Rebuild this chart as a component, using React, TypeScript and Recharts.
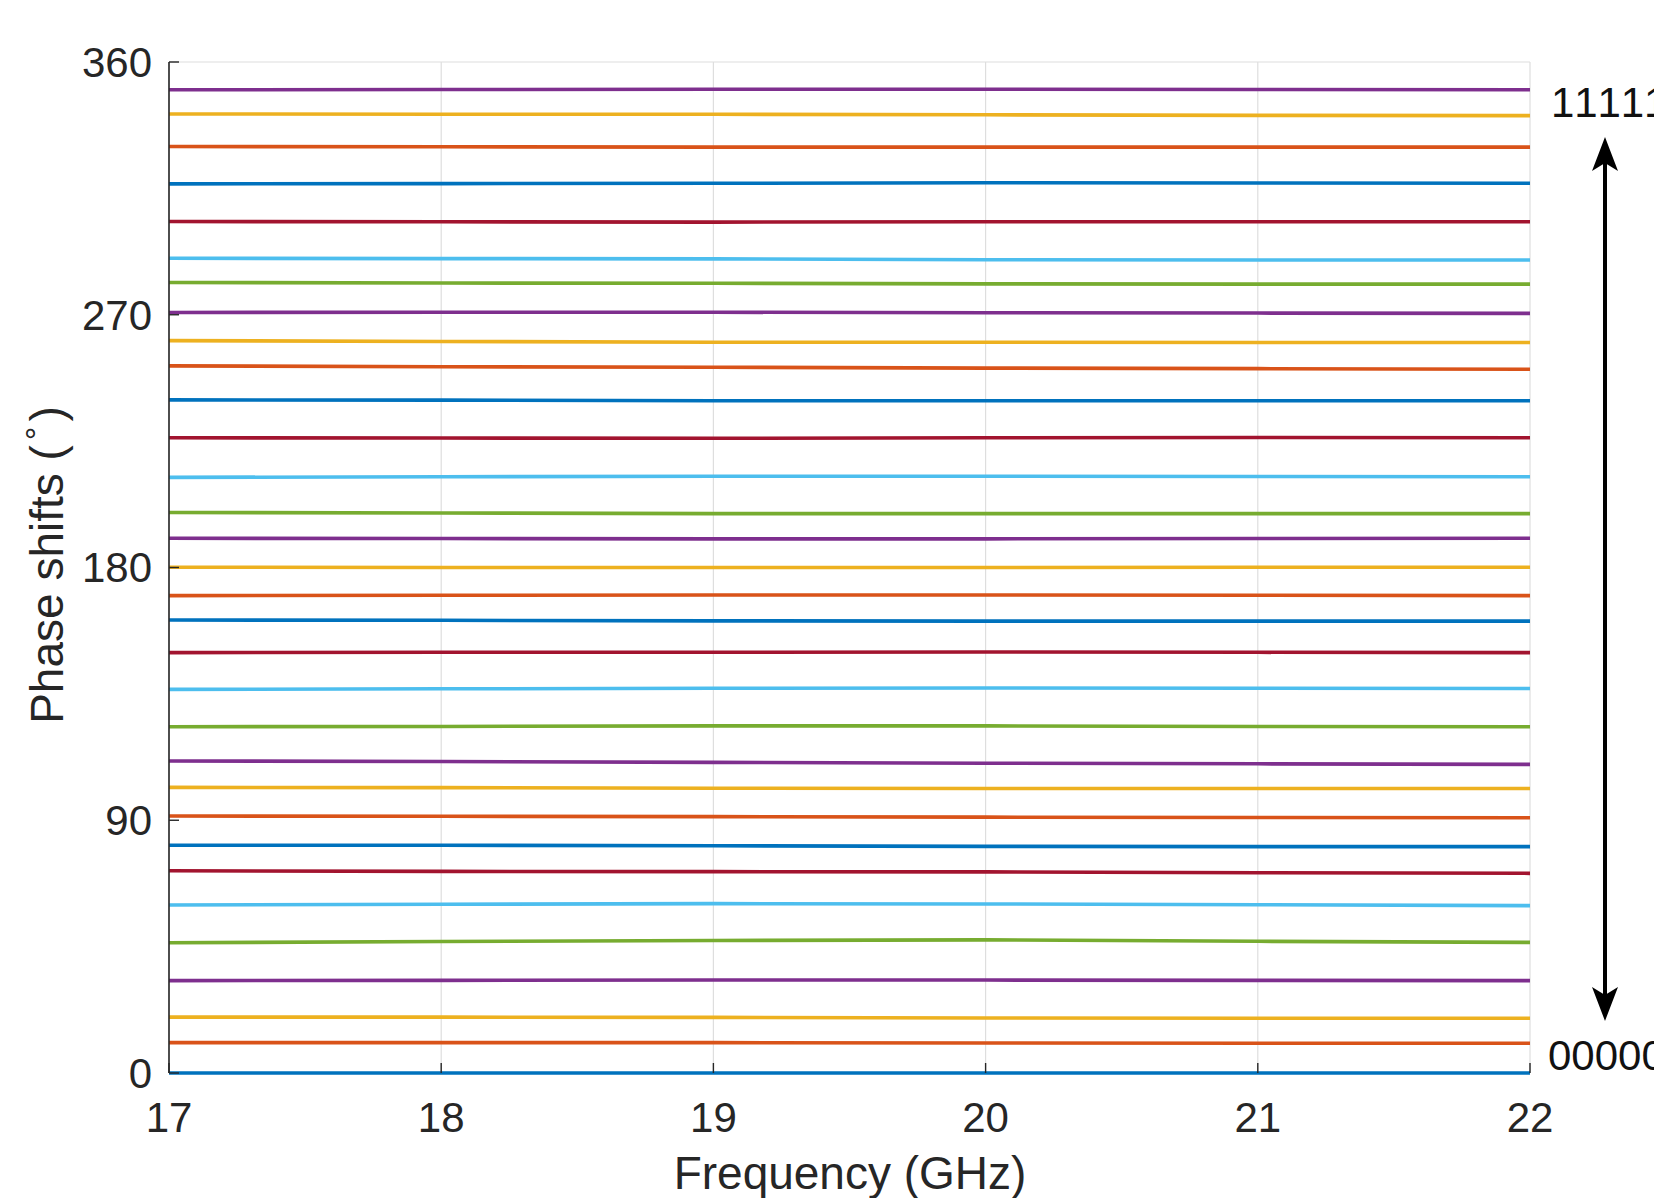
import React from 'react';
import { LineChart, Line, XAxis, YAxis, CartesianGrid, ReferenceLine } from 'recharts';

// Frequency points (GHz)
const frequencies = [17, 18, 19, 20, 21, 22];

// Measured phase shift (deg) for each of the 32 states (00000 ... 11111), at each frequency
const state00 = [0, 0, 0, 0, 0, 0];
const state01 = [10.8, 10.8, 10.8, 10.7, 10.6, 10.6];
const state02 = [19.9, 19.9, 19.8, 19.6, 19.5, 19.5];
const state03 = [32.9, 33.0, 33.1, 33.1, 33.0, 32.9];
const state04 = [46.4, 46.8, 47.2, 47.4, 46.9, 46.5];
const state05 = [59.8, 60.1, 60.3, 60.2, 59.9, 59.6];
const state06 = [72.0, 71.8, 71.7, 71.6, 71.3, 71.1];
const state07 = [81.1, 81.1, 80.9, 80.7, 80.6, 80.6];
const state08 = [91.5, 91.4, 91.3, 91.1, 91.0, 90.9];
const state09 = [101.7, 101.6, 101.4, 101.3, 101.3, 101.3];
const state10 = [111.1, 110.9, 110.6, 110.3, 110.1, 109.9];
const state11 = [123.3, 123.4, 123.6, 123.6, 123.4, 123.3];
const state12 = [136.6, 136.8, 137.0, 137.1, 137.0, 136.9];
const state13 = [149.7, 149.8, 149.8, 149.9, 149.8, 149.7];
const state14 = [161.3, 161.2, 161.0, 160.9, 160.9, 160.9];
const state15 = [170.0, 170.1, 170.2, 170.2, 170.1, 170.0];
const state16 = [180.1, 180.0, 180.0, 180.0, 180.1, 180.1];
const state17 = [190.4, 190.3, 190.2, 190.2, 190.3, 190.4];
const state18 = [199.6, 199.4, 199.2, 199.2, 199.2, 199.2];
const state19 = [212.1, 212.3, 212.5, 212.5, 212.4, 212.3];
const state20 = [226.2, 226.1, 226.0, 226.2, 226.3, 226.2];
const state21 = [239.7, 239.6, 239.4, 239.4, 239.4, 239.4];
const state22 = [251.8, 251.5, 251.3, 251.0, 250.8, 250.6];
const state23 = [260.8, 260.5, 260.2, 260.2, 260.1, 260.1];
const state24 = [270.8, 270.9, 270.9, 270.7, 270.6, 270.5];
const state25 = [281.5, 281.3, 281.2, 281.0, 280.9, 280.9];
const state26 = [290.1, 290.0, 289.9, 289.6, 289.5, 289.5];
const state27 = [303.2, 303.1, 303.0, 303.1, 303.1, 303.1];
const state28 = [316.6, 316.7, 316.8, 317.0, 316.9, 316.8];
const state29 = [329.9, 329.8, 329.7, 329.7, 329.7, 329.7];
const state30 = [341.5, 341.4, 341.4, 341.2, 341.0, 340.9];
const state31 = [350.1, 350.2, 350.3, 350.3, 350.2, 350.1];

const states = [
  state00, state01, state02, state03, state04, state05, state06, state07,
  state08, state09, state10, state11, state12, state13, state14, state15,
  state16, state17, state18, state19, state20, state21, state22, state23,
  state24, state25, state26, state27, state28, state29, state30, state31,
];

const palette = ['#0072BD', '#D95319', '#EDB120', '#7E2F8E', '#77AC30', '#4DBEEE', '#A2142F'];

const xTicks = [17, 18, 19, 20, 21, 22];
const yTicks = [0, 90, 180, 270, 360];

const data = frequencies.map((f, i) => {
  const row: Record<string, number> = { f };
  states.forEach((s, k) => {
    row['s' + k] = s[i];
  });
  return row;
});

const FONT = 'Arial, "Liberation Sans", Helvetica, sans-serif';
const TEXT = '#262626';

export default function App() {
  return (
    <div style={{ position: 'absolute', left: 0, top: 0, width: 1654, height: 1198, background: '#fff', overflow: 'hidden' }}>
      <LineChart
        width={1654}
        height={1198}
        data={data}
        margin={{ top: 62, right: 124, bottom: 0, left: 0 }}
      >
        <CartesianGrid horizontal={false} vertical stroke="#dedede" strokeWidth={1.2} />
        <ReferenceLine y={360} stroke="#dedede" strokeWidth={1.2} />
        <XAxis
          type="number"
          dataKey="f"
          domain={[17, 22]}
          ticks={xTicks}
          interval={0}
          height={125}
          axisLine={false}
          tickSize={-10}
          tickMargin={39}
          tickLine={{ stroke: TEXT, strokeWidth: 1.4 }}
          tick={{ fill: TEXT, fontSize: 42, fontFamily: FONT }}
        />
        <YAxis
          type="number"
          domain={[0, 360]}
          ticks={yTicks}
          interval={0}
          width={169}
          axisLine={{ stroke: TEXT, strokeWidth: 1.6 }}
          tickSize={-10}
          tickMargin={27}
          tickLine={{ stroke: TEXT, strokeWidth: 1.4 }}
          tick={{ fill: TEXT, fontSize: 42, fontFamily: FONT }}
        />
        {states.map((_, k) => (
          <Line
            key={k}
            type="linear"
            dataKey={'s' + k}
            stroke={palette[k % palette.length]}
            strokeWidth={3.6}
            dot={false}
            activeDot={false}
            isAnimationActive={false}
          />
        ))}
      </LineChart>
      <svg
        width={1654}
        height={1198}
        style={{ position: 'absolute', left: 0, top: 0, pointerEvents: 'none' }}
      >
        <text x={850} y={1189} textAnchor="middle" fontSize={46} fontFamily={FONT} fill={TEXT}>
          Frequency (GHz)
        </text>
        <text
          transform="translate(63,565) rotate(-90)"
          textAnchor="middle"
          fontSize={46}
          fontFamily={FONT}
          fill={TEXT}
        >
          Phase shifts (<tspan dx={5} dy={-14} fontSize={34}>°</tspan><tspan dx={5} dy={14}>)</tspan>
        </text>
        <text x={1551} y={117} fontSize={42} letterSpacing={3} fontFamily={FONT} fill="#111">11111</text>
        <text x={1548} y={1070} fontSize={42} fontFamily={FONT} fill="#111">00000</text>
        <line x1={1605} y1={160} x2={1605} y2={998} stroke="#000" strokeWidth={4} />
        <path d="M1605 137 L1618 171 L1605 163 L1592 171 Z" fill="#000" />
        <path d="M1605 1021 L1618 987 L1605 995 L1592 987 Z" fill="#000" />
      </svg>
    </div>
  );
}
